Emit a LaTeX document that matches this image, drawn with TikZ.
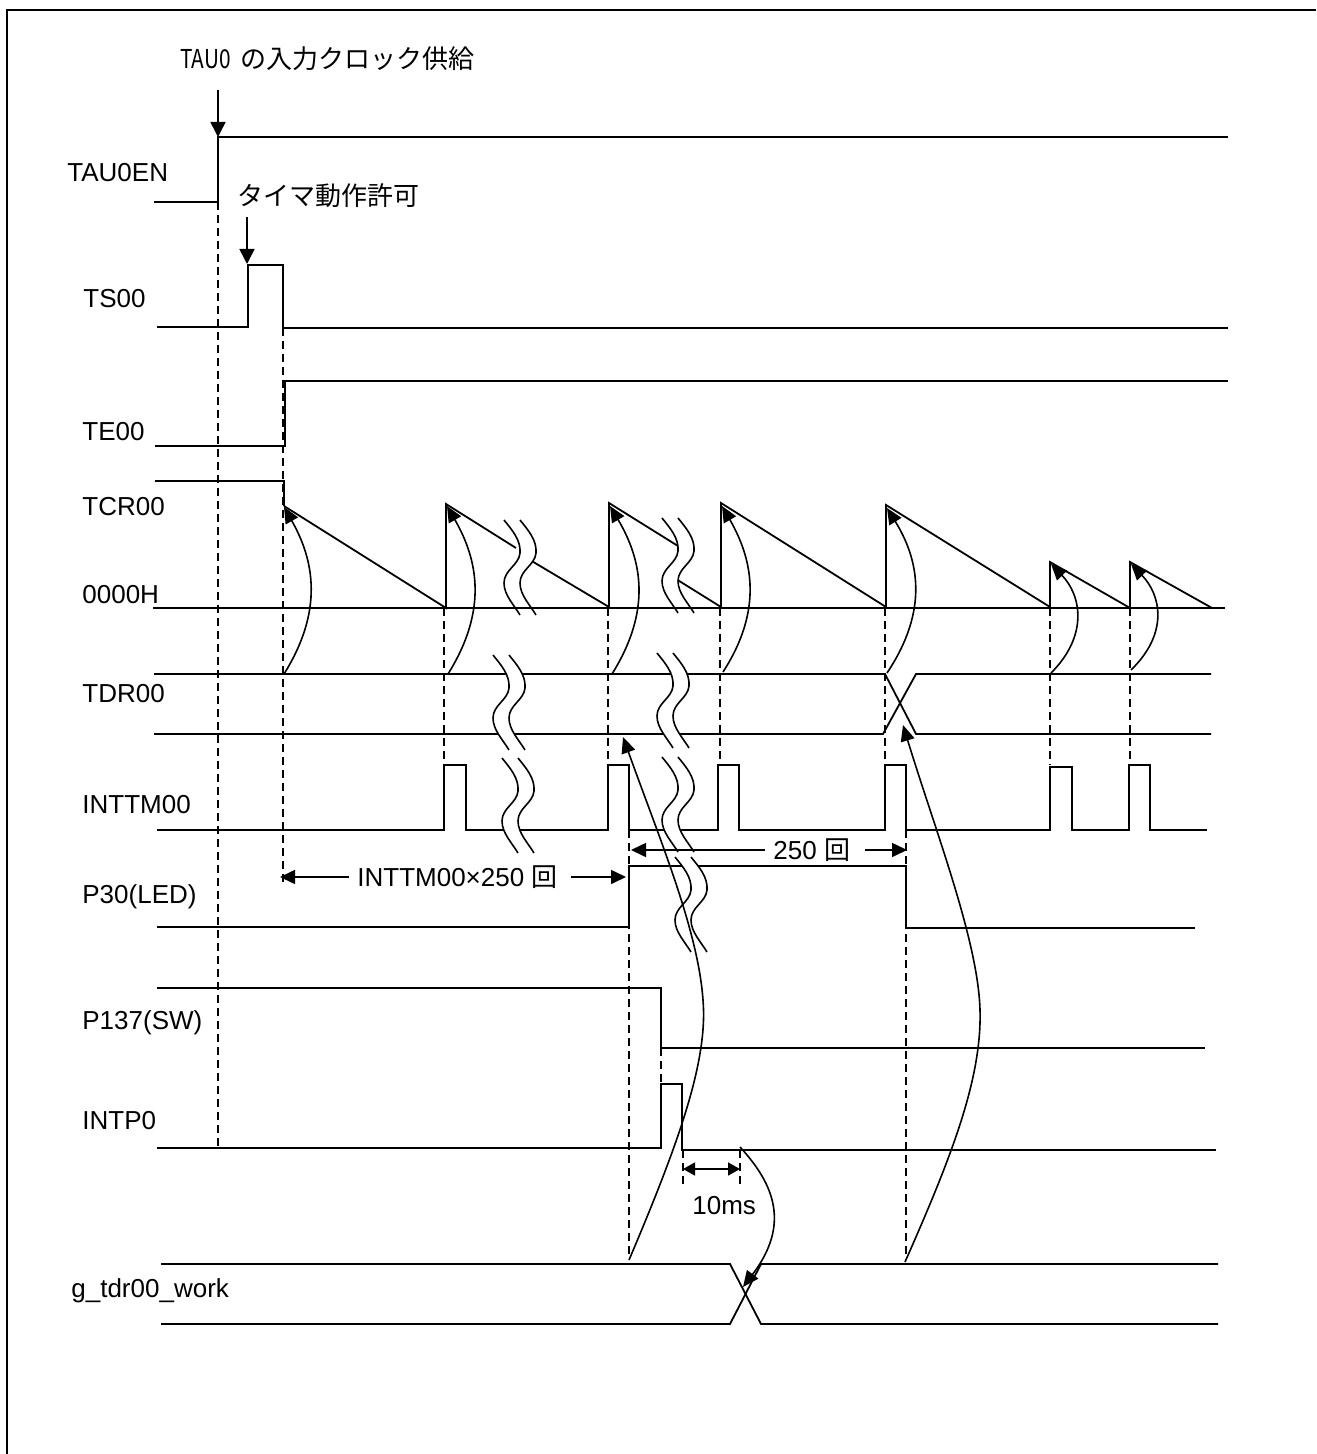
\documentclass[tikz,border=0pt]{standalone}
\usepackage{fontspec}
\usepackage{graphicx}
\setmainfont{Liberation Sans}
\newfontfamily\cjk{Noto Sans CJK JP}
\usetikzlibrary{arrows.meta}
\tikzset{
  wavy/.pic={
    \path[fill=white] (0,0) .. controls (8,10) and (17,20) .. (16,33) .. controls (15,45) and (0,50) .. (0,63) .. controls (0,75) and (10,85) .. (16,95)
      -- (32,95) .. controls (26,85) and (16,75) .. (16,63) .. controls (16,50) and (31,45) .. (32,33) .. controls (33,20) and (24,10) .. (16,0) -- cycle;
    \draw[line width=0.8pt] (0,0) .. controls (8,10) and (17,20) .. (16,33) .. controls (15,45) and (0,50) .. (0,63) .. controls (0,75) and (10,85) .. (16,95);
    \draw[line width=0.8pt] (16,0) .. controls (24,10) and (33,20) .. (32,33) .. controls (31,45) and (16,50) .. (16,63) .. controls (16,75) and (26,85) .. (32,95);
  }
}
\begin{document}
\begin{tikzpicture}[x=0.5pt,y=-0.5pt,
  sig/.style={line width=0.9pt},
  dsh/.style={line width=0.8pt,dash pattern=on 4pt off 2.5pt},
  crv/.style={line width=0.8pt,-{Triangle[length=8pt,width=7pt]}},
  dim/.style={line width=0.8pt,-{Triangle[length=7.5pt,width=7pt]}},
  lbl/.style={font=\fontsize{13pt}{15pt}\selectfont,anchor=base west,inner sep=0pt},
  jlbl/.style={font=\cjk\fontsize{13pt}{15pt}\selectfont,anchor=base west,inner sep=0pt}]
\useasboundingbox (0,0) rectangle (1316,1454);
% frame
\draw[line width=1pt] (7,1454) -- (7,10) -- (1316,10);

% labels
\node[jlbl] (title) at (180,69) {\scalebox{0.8}[1]{TAU0}\hspace{5pt}の入力クロック供給};
\node[jlbl] (tsl) at (237,206) {タイマ動作許可};
\node[lbl] (lTAU) at (67,182) {TAU0EN};
\node[lbl] (lTS) at (83,308) {TS00};
\node[lbl] (lTE) at (82,441) {TE00};
\node[lbl] (lTCR) at (82,515) {TCR00};
\node[lbl] (lZero) at (82,603) {0000H};
\node[lbl] (lTDR) at (82,702) {TDR00};
\node[lbl] (lINTTM) at (82,813) {INTTM00};
\node[lbl] (lP30) at (82,903) {P30(LED)};
\node[lbl] (lP137) at (82,1029) {P137(SW)};
\node[lbl] (lINTP) at (82,1129) {INTP0};
\node[lbl] (lwork) at (71,1297) {g\_tdr00\_work};

% pointer arrows
\coordinate (a1s) at (218,90); \coordinate (a1e) at (218,137);
\draw[line width=0.8pt,-{Triangle[length=7.5pt,width=7.5pt]}] (a1s) -- (a1e);
\coordinate (a2s) at (247,217); \coordinate (a2e) at (247,264);
\draw[line width=0.8pt,-{Triangle[length=7.5pt,width=7.5pt]}] (a2s) -- (a2e);

% signals
\draw[sig] (154,202) -- (218,202) -- (218,137) -- (1228,137);
\draw[sig] (157,327) -- (248,327) -- (248,265) -- (283,265) -- (283,328) -- (1228,328);
\draw[sig] (155,446) -- (285,446) -- (285,381) -- (1228,381);
% TCR00
\draw[sig] (155,481) -- (284,481) -- (284,506);
\draw[sig] (284,506) -- (446,608) -- (446,504) -- (516,548);
\draw[sig] (530,560) -- (609,607) -- (609,503) -- (678,546);
\draw[sig] (676,579) -- (721,607) -- (721,503) -- (886,607) -- (886,505) -- (1050,607) -- (1050,562) -- (1130,608) -- (1130,562) -- (1212,608);
% TDR00
\draw[sig] (154,674) -- (885,674) -- (916,734) -- (1211,734);
\draw[sig] (154,734) -- (883,734) -- (916,674) -- (1211,674);
% INTTM00
\draw[sig] (157,830) -- (444,830) -- (444,765) -- (466,765) -- (466,830) -- (608,830) -- (608,765) -- (629,765) -- (629,830)
  -- (718,830) -- (718,765) -- (739,765) -- (739,830) -- (885,830) -- (885,765) -- (906,765) -- (906,830)
  -- (1050,830) -- (1050,767) -- (1072,767) -- (1072,830) -- (1129,830) -- (1129,765) -- (1150,765) -- (1150,830) -- (1207,830);
% P30
\draw[sig] (157,927) -- (629,927) -- (629,866) -- (906,866) -- (906,928) -- (1195,928);
% P137
\draw[sig] (157,988) -- (661,988) -- (661,1048) -- (1205,1048);
% INTP0
\draw[sig] (157,1148) -- (661,1148) -- (661,1084) -- (682,1084) -- (682,1150) -- (1216,1150);
% g_tdr00_work
\draw[sig] (161,1264) -- (730,1264) -- (761,1324) -- (1218,1324);
\draw[sig] (161,1324) -- (730,1324) -- (761,1264) -- (1218,1264);

% wavy breaks
\pic at (504,520) {wavy};
\pic at (493,655) {wavy};
\pic at (502,758) {wavy};
\pic at (662,518) {wavy};
\pic at (657,653) {wavy};
\pic at (662,757) {wavy};
\pic at (675,857) {wavy};

% baseline 0000H
\draw[sig] (153,608) -- (1225,608);

% dashed guides
\draw[dsh] (218,202) -- (218,1148);
\draw[dsh] (283,328) -- (283,885);
\foreach \x in {444,608,720,885,1050,1130} \draw[dsh] (\x,608) -- (\x,765);
\draw[dsh] (629,830) -- (629,1258);
\draw[dsh] (906,830) -- (906,1260);
\draw[dsh] (661,1048) -- (661,1084);
\draw[dsh] (683,1150) -- (683,1187);
\draw[dsh] (740,1150) -- (740,1185);

% reload arrows TDR00 -> TCR00
\coordinate (c1s) at (284,674); \coordinate (c1e) at (284,507);
\draw[crv] (c1s) .. controls (324,610) and (314,560) .. (c1e);
\coordinate (c2s) at (448,674); \coordinate (c2e) at (447,506);
\draw[crv] (c2s) .. controls (488,610) and (478,560) .. (c2e);
\coordinate (c3s) at (612,674); \coordinate (c3e) at (610,506);
\draw[crv] (c3s) .. controls (652,610) and (642,560) .. (c3e);
\coordinate (c4s) at (723,672); \coordinate (c4e) at (722,506);
\draw[crv] (c4s) .. controls (763,610) and (753,560) .. (c4e);
\coordinate (c5s) at (887,673); \coordinate (c5e) at (887,508);
\draw[crv] (c5s) .. controls (929,610) and (919,560) .. (c5e);
\coordinate (c6s) at (1051,673); \coordinate (c6e) at (1051,564);
\draw[crv] (c6s) .. controls (1089,635) and (1081,595) .. (c6e);
\coordinate (c7s) at (1131,670); \coordinate (c7e) at (1131,564);
\draw[crv] (c7s) .. controls (1169,633) and (1161,595) .. (c7e);

% long arrows
\coordinate (lAs) at (629,1260); \coordinate (lAe) at (623,737);
\draw[crv] (lAs) .. controls (680,1140) and (708,1060) .. (703,1000) .. controls (698,930) and (660,840) .. (lAe);
\coordinate (lBs) at (905,1262); \coordinate (lBe) at (903,725);
\draw[crv] (lBs) .. controls (950,1160) and (982,1080) .. (980,1010) .. controls (978,940) and (935,830) .. (lBe);
\coordinate (lCs) at (740,1147); \coordinate (lCe) at (743,1287);
\draw[crv] (lCs) .. controls (775,1185) and (790,1225) .. (lCe);

% dimension: INTTM00x250
\node[lbl] (d1) at (357,886) {INTTM00×250 {\cjk 回}};
\coordinate (d1l) at (349,877); \coordinate (d1le) at (280,877);
\coordinate (d1r) at (571,877); \coordinate (d1re) at (626,877);
\draw[dim] (d1l) -- (d1le);
\draw[dim] (d1r) -- (d1re);
% dimension: 250
\node[lbl] (d2) at (773,859) {250 {\cjk 回}};
\coordinate (d2l) at (765,850); \coordinate (d2le) at (631,850);
\coordinate (d2r) at (865,850); \coordinate (d2re) at (907,850);
\draw[dim] (d2l) -- (d2le);
\draw[dim] (d2r) -- (d2re);
% dimension: 10ms
\coordinate (d3l) at (683,1169); \coordinate (d3r) at (740,1169);
\draw[line width=0.8pt,{Triangle[length=6pt,width=6.5pt]}-{Triangle[length=6pt,width=6.5pt]}] (d3l) -- (d3r);
\node[lbl] (d3) at (692,1214) {10ms};
\end{tikzpicture}
\end{document}
